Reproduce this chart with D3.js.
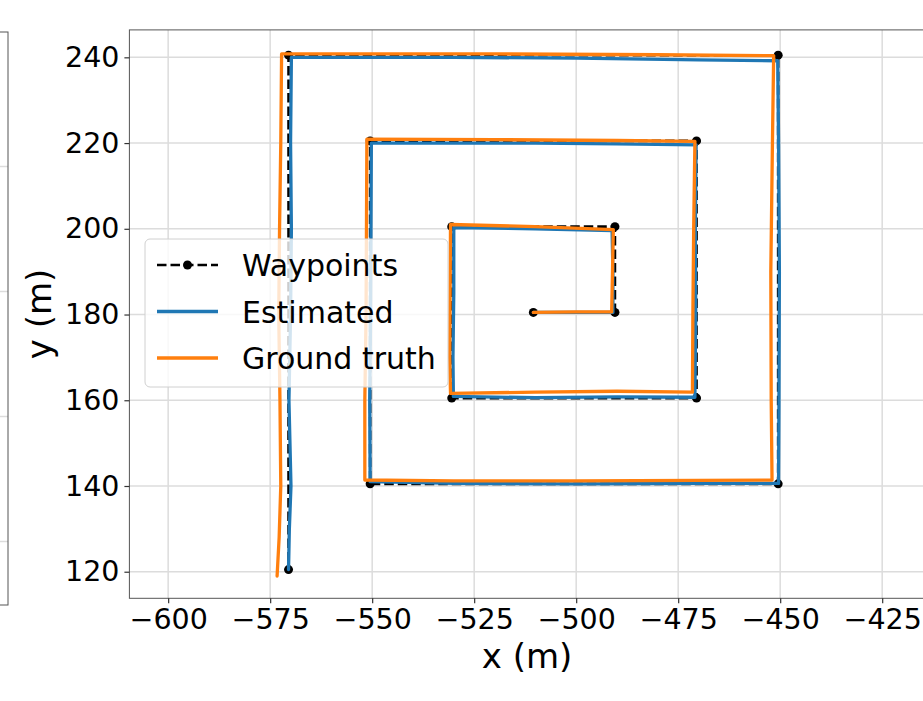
<!DOCTYPE html>
<html>
<head>
<meta charset="utf-8">
<script src="https://cdn.jsdelivr.net/npm/d3@7"></script>
<style>
  body { margin: 0; background: #fff; }
  svg { display: block; font-family: "DejaVu Sans", sans-serif; }
</style>
</head>
<body>
<svg id="svg"></svg>
<script>
// waypoints the vehicle was sent to
const waypoints = [
  [-510.5, 180.5], [-490.5, 180.5], [-490.5, 200.5], [-530.5, 200.5],
  [-530.5, 160.5], [-470.5, 160.5], [-470.5, 220.5], [-550.5, 220.5],
  [-550.5, 140.5], [-450.5, 140.5], [-450.5, 240.5], [-570.5, 240.5],
  [-570.5, 120.5]
];
// estimated trajectory
const estimated = [
  [-510.5, 180.5], [-500, 180.5], [-491.0, 180.5],
  [-491.0, 190], [-491.2, 199.6],
  [-510, 200.0], [-530.0, 200.3],
  [-530.0, 185], [-530.2, 170], [-530.1, 160.9],
  [-510, 160.6], [-490, 160.8], [-470.9, 160.7],
  [-470.7, 180], [-470.8, 200], [-470.6, 219.6],
  [-490, 219.8], [-510, 220.0], [-530, 220.0], [-550.2, 220.0],
  [-550.3, 200], [-550.4, 180], [-550.6, 160], [-550.5, 141.0],
  [-530, 140.6], [-500, 140.5], [-470, 140.6], [-450.4, 140.6],
  [-450.3, 160], [-450.2, 190], [-450.4, 220], [-450.6, 239.2],
  [-470, 239.4], [-500, 239.8], [-530, 240.0], [-560, 240.0], [-569.8, 240.0],
  [-570.0, 220], [-569.8, 200], [-570.0, 180], [-570.4, 160], [-569.9, 140],
  [-570.3, 130], [-570.5, 120.5]
];
// ground truth trajectory
const groundTruth = [
  [-510.5, 180.5], [-500, 180.6], [-491.3, 180.6],
  [-491.1, 190], [-490.9, 199.8],
  [-510, 200.5], [-530.8, 201.0],
  [-530.9, 185], [-531.0, 170], [-530.8, 161.6],
  [-510, 161.9], [-490, 162.1], [-471.5, 161.9],
  [-471.4, 180], [-471.2, 200], [-470.9, 220.4],
  [-490, 220.6], [-520, 220.8], [-551.3, 220.9],
  [-551.4, 200], [-551.5, 180], [-551.8, 160], [-551.8, 141.4],
  [-530, 141.2], [-500, 141.2], [-470, 141.3], [-452.0, 141.4],
  [-452.2, 160], [-452.3, 190], [-451.9, 220], [-451.6, 240.4],
  [-480, 240.6], [-520, 240.8], [-550, 240.8], [-572.2, 240.8],
  [-572.4, 220], [-572.7, 200], [-572.9, 180], [-572.6, 160], [-572.4, 140],
  [-572.8, 128], [-573.3, 119]
];
const xTicks = [-600, -575, -550, -525, -500, -475, -450, -425];
const yTicks = [120, 140, 160, 180, 200, 220, 240];
const legendLabels = ["Waypoints", "Estimated", "Ground truth"];
// the neighbouring subplot, only its right edge is in view
const leftPanelGrid = [1, 2, 3, 4];

let width = 923, height = 701;
let svg = d3.select("#svg").attr("width", width).attr("height", height);

let x = d3.scaleLinear().domain([-609.5, -400]).range([129.4, 984.2]);
let y = d3.scaleLinear().domain([113.8, 246.4]).range([598.3, 29.9]);

// left panel remnant
let yl = d3.scaleLinear().domain([0.5, 4.5]).range([604, 104]);
svg.append('g').selectAll('line')
  .data(leftPanelGrid)
  .join('line')
  .attr('x1', 0).attr('x2', 8)
  .attr('y1', d => yl(d)).attr('y2', d => yl(d))
  .attr('stroke', '#dcdcdc').attr('stroke-width', 1.5);
svg.append('rect')
  .attr('x', -20).attr('y', 32).attr('width', 28).attr('height', 573)
  .attr('fill', 'none').attr('stroke', '#555').attr('stroke-width', 1);

// grid
let grid = svg.append('g');
grid.selectAll('.gx').data(xTicks).join('line')
  .attr('x1', d => x(d)).attr('x2', d => x(d))
  .attr('y1', y.range()[0]).attr('y2', y.range()[1])
  .attr('stroke', '#dcdcdc').attr('stroke-width', 1.5);
grid.selectAll('.gy').data(yTicks).join('line')
  .attr('x1', x.range()[0]).attr('x2', x.range()[1])
  .attr('y1', d => y(d)).attr('y2', d => y(d))
  .attr('stroke', '#dcdcdc').attr('stroke-width', 1.5);

let line = d3.line().x(d => x(d[0])).y(d => y(d[1])).curve(d3.curveCatmullRom.alpha(0.5));
let straight = d3.line().x(d => x(d[0])).y(d => y(d[1]));

// waypoints
svg.append('path').datum(waypoints)
  .attr('d', straight)
  .attr('fill', 'none').attr('stroke', '#000')
  .attr('stroke-width', 2.6).attr('stroke-dasharray', '9.5,4');
svg.append('g').selectAll('circle').data(waypoints).join('circle')
  .attr('cx', d => x(d[0])).attr('cy', d => y(d[1])).attr('r', 4.5)
  .attr('fill', '#000');

svg.append('path').datum(estimated)
  .attr('d', straight)
  .attr('fill', 'none').attr('stroke', '#1f77b4')
  .attr('stroke-width', 3.3).attr('stroke-linejoin', 'round').attr('stroke-linecap', 'round');

svg.append('path').datum(groundTruth)
  .attr('d', straight)
  .attr('fill', 'none').attr('stroke', '#ff7f0e')
  .attr('stroke-width', 3.3).attr('stroke-linejoin', 'round').attr('stroke-linecap', 'round');

// frame
svg.append('rect')
  .attr('x', x.range()[0]).attr('y', y.range()[1])
  .attr('width', x.range()[1] - x.range()[0]).attr('height', y.range()[0] - y.range()[1])
  .attr('fill', 'none').attr('stroke', '#555').attr('stroke-width', 1);

// axes
let xAxis = d3.axisBottom(x).tickValues(xTicks).tickSize(5).tickPadding(5)
  .tickFormat(d => d3.format("d")(d).replace('-', '\u2212'));
let gx = svg.append('g').attr('transform', `translate(0,${y.range()[0]})`).call(xAxis);
let yAxis = d3.axisLeft(y).tickValues(yTicks).tickSize(5).tickPadding(5);
let gy = svg.append('g').attr('transform', `translate(${x.range()[0]},0)`).call(yAxis);
[gx, gy].forEach(g => {
  g.select('.domain').remove();
  g.selectAll('.tick line').attr('stroke', '#333').attr('stroke-width', 1.2);
  g.selectAll('.tick text').attr('fill', '#000')
    .style('font-family', '"DejaVu Sans", sans-serif').style('font-size', '28.5px');
});

svg.append('text').attr('x', 527).attr('y', 668).attr('text-anchor', 'middle')
  .style('font-size', '34px').text('x (m)');
svg.append('text').attr('transform', 'translate(51,314) rotate(-90)').attr('text-anchor', 'middle')
  .style('font-size', '34px').text('y (m)');

// legend
let lg = svg.append('g');
lg.append('rect').attr('x', 145).attr('y', 239).attr('width', 303).attr('height', 148)
  .attr('rx', 5).attr('fill', '#fff').attr('fill-opacity', 0.8)
  .attr('stroke', '#d0d0d0').attr('stroke-width', 1);
let rows = lg.selectAll('g').data(legendLabels).join('g')
  .attr('transform', (d, i) => `translate(0,${265 + i * 46.5})`);
rows.append('line').attr('x1', 157).attr('x2', 218).attr('y1', 0).attr('y2', 0)
  .attr('stroke', (d, i) => ['#000', '#1f77b4', '#ff7f0e'][i])
  .attr('stroke-width', (d, i) => i == 0 ? 2.6 : 3.3)
  .attr('stroke-dasharray', (d, i) => i == 0 ? '9.5,4' : null);
rows.filter((d, i) => i == 0).append('circle').attr('cx', 187.5).attr('cy', 0).attr('r', 4.5).attr('fill', '#000');
rows.append('text').attr('x', 242).attr('y', 11).style('font-size', '30px').text(d => d);
</script>
</body>
</html>
